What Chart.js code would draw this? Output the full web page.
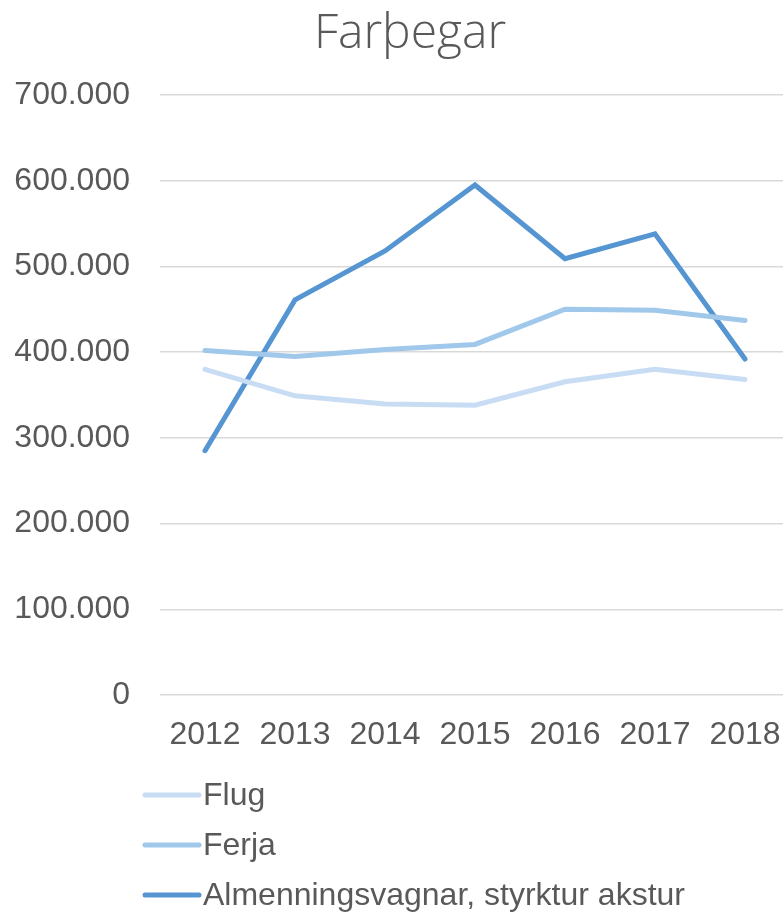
<!DOCTYPE html>
<html>
<head>
<meta charset="utf-8">
<script src="https://cdn.jsdelivr.net/npm/chart.js@4.4.1/dist/chart.umd.min.js"></script>
<style>
  html, body { margin: 0; padding: 0; background: #fff; overflow: hidden; }
  #wrap { width: 783px; height: 912px; overflow: hidden; position: relative; }
  #chart { position: absolute; left: 0; top: 0; }
</style>
</head>
<body>
<div id="wrap"><canvas id="chart" width="800" height="912"></canvas></div>
<script>
const years = ['2012', '2013', '2014', '2015', '2016', '2017', '2018'];
const flug = [380000, 349000, 339500, 338000, 365500, 380000, 368000];
const ferja = [402000, 395000, 403000, 409000, 450000, 449000, 437000];
const almenn = [285000, 461000, 518000, 595000, 509000, 538000, 392000];
const yTicks = [0, 100000, 200000, 300000, 400000, 500000, 600000, 700000];
const chartTitle = 'Farþegar';

const TEXT = '#595959';
const FONT = "'Liberation Sans', Arial, sans-serif";

// title sits a bit right of the canvas centre, and the legend is a vertical list
const extrasPlugin = {
    id: 'titleAndLegend',
    afterDraw(chart) {
        const ctx = chart.ctx;
        ctx.save();
        ctx.fillStyle = TEXT;
        ctx.font = "300 48px 'Open Sans', sans-serif";
        ctx.textAlign = 'center';
        ctx.textBaseline = 'middle';
        ctx.fillText(chartTitle, 410, 34);

        const top = chart.chartArea.bottom + 100;
        ctx.textAlign = 'left';
        chart.data.datasets.forEach((ds, i) => {
            const y = top + i * 50;
            ctx.strokeStyle = ds.borderColor;
            ctx.lineWidth = 5;
            ctx.lineCap = 'round';
            ctx.beginPath();
            ctx.moveTo(145, y);
            ctx.lineTo(199, y);
            ctx.stroke();
            ctx.font = '32px ' + FONT;
            ctx.fillText(ds.label, 203, y + 1);
        });
        ctx.restore();
    }
};

new Chart(document.getElementById('chart'), {
    type: 'line',
    data: {
        labels: years,
        datasets: [
            { label: 'Flug', data: flug, borderColor: '#c8ddf4', borderWidth: 5 },
            { label: 'Ferja', data: ferja, borderColor: '#a0c8ea', borderWidth: 5 },
            { label: 'Almenningsvagnar, styrktur akstur', data: almenn, borderColor: '#5595d2', borderWidth: 5 }
        ]
    },
    plugins: [extrasPlugin],
    options: {
        responsive: false,
        animation: false,
        layout: { padding: { left: 0, right: 10, top: 95, bottom: 0 } },
        elements: {
            point: { radius: 0 },
            line: { tension: 0, borderCapStyle: 'round', borderJoinStyle: 'miter' }
        },
        plugins: {
            legend: { display: false },
            tooltip: { enabled: false },
            title: { display: false }
        },
        scales: {
            x: {
                offset: true,
                grid: { display: false },
                border: { display: false },
                ticks: { color: TEXT, font: { family: FONT, size: 32 }, padding: 13, maxRotation: 0 },
                afterFit(scale) { scale.height = 217; }
            },
            y: {
                min: 0,
                max: 700000,
                afterBuildTicks(scale) { scale.ticks = yTicks.map(v => ({ value: v })); },
                grid: { color: '#d9d9d9', lineWidth: 1.5, drawTicks: false },
                border: { display: false },
                ticks: {
                    color: TEXT,
                    font: { family: FONT, size: 32 },
                    padding: 30,
                    callback: v => v.toLocaleString('de-DE')
                },
                afterFit(scale) { scale.width = 160; }
            }
        }
    }
});
</script>
</body>
</html>
